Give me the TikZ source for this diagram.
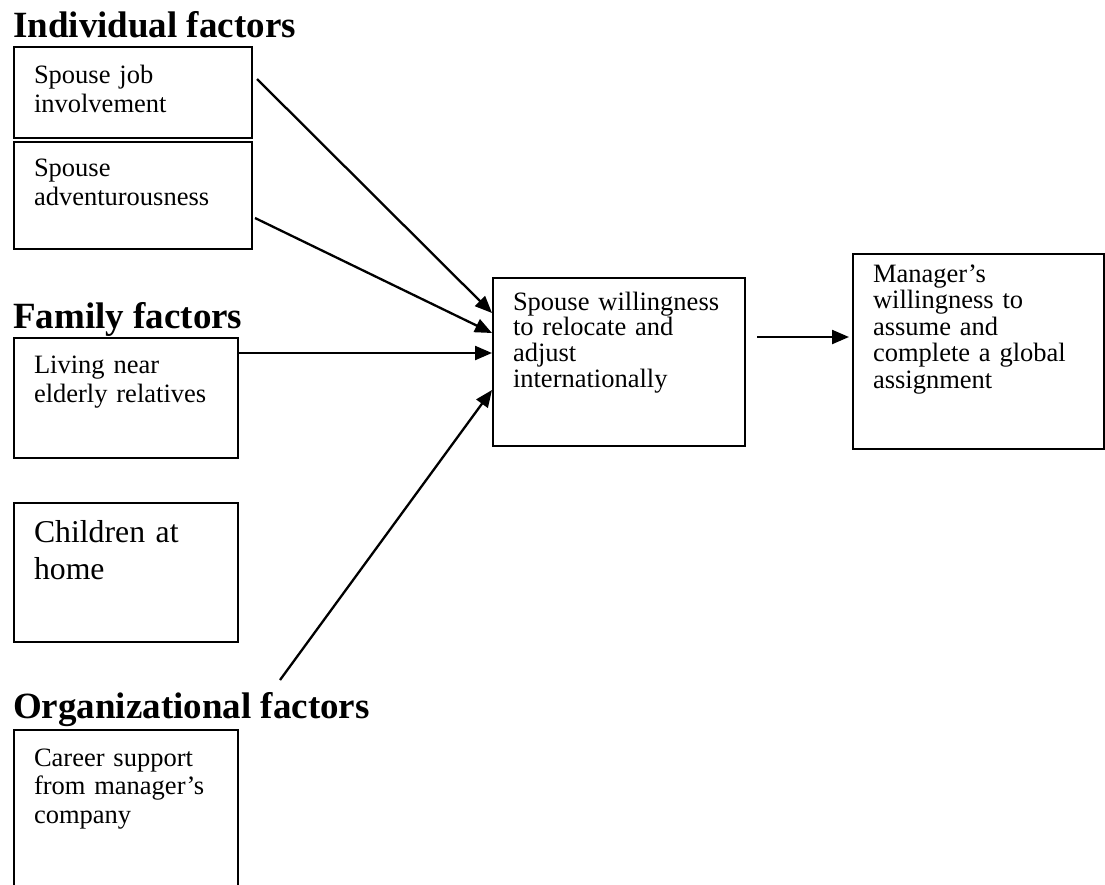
\documentclass[tikz,border=0pt]{standalone}
\usepackage{fontspec}
\setmainfont{Liberation Serif}
\usetikzlibrary{calc,arrows.meta}
\tikzset{
  factorbox/.style={draw, line width=2pt, anchor=north west, inner xsep=20pt, inner ysep=0pt, align=left, font=\fontsize{26.5}{29}\selectfont},
  heading/.style={anchor=base west, inner sep=0pt, font=\bfseries\fontsize{37}{40}\selectfont},
  link/.style={line width=2.3pt, -{Triangle[length=17pt,width=14pt]}}
}

\begin{document}
\begin{tikzpicture}[x=1pt,y=-1pt]
		%%%%% START %%%%%
		\useasboundingbox (0,0) rectangle (1105,884);
		\clip (0,0) rectangle (1105,884);
		
		\node[heading] (indiv) at (13,37) {Individual factors};
		\node[factorbox, text width=198pt, text height=36pt, text depth=55pt] (job) at (13,46) {Spouse job\\involvement};
		\node[factorbox, text width=198pt, text height=34pt, text depth=73pt] (adv) at (13,141) {Spouse\\adventurousness};
		
		\node[heading] (family) at (13,328) {Family factors};
		\node[factorbox, text width=184pt, text height=35pt, text depth=85pt] (eld) at (13,337) {Living near\\elderly relatives};
		\node[factorbox, text width=184pt, text height=39pt, text depth=100pt, font=\fontsize{31.75}{37}\selectfont] (kids) at (13,502) {Children at\\home};
		
		\node[heading] (org) at (13,718) {Organizational factors};
		\node[factorbox, text width=184pt, text height=36pt, text depth=164pt, font=\fontsize{26.5}{28.5}\selectfont] (car) at (13,729) {Career support\\from manager’s\\company};
		
		\node[factorbox, text width=212pt, text height=32pt, text depth=136pt, font=\fontsize{26.5}{25.8}\selectfont] (spw) at (492,277) {Spouse willingness\\to relocate and\\adjust\\internationally};
		\node[factorbox, text width=211pt, text height=28pt, text depth=167pt, font=\fontsize{26.5}{26.5}\selectfont] (mgr) at (852,253) {Manager’s\\willingness to\\assume and\\complete a global\\assignment};
		
		\coordinate (orgtail) at (280,680);
		
		\draw[link] ($(job.north east)+(4,33)$) -- ($(spw.north west)+(0,36)$);
		\draw[link] ($(adv.north east)+(2,77)$) -- ($(spw.north west)+(0,56)$);
		\draw[link] ($(eld.north east)+(0,16)$) -- ($(spw.north west)+(0,76)$);
		\draw[link] (orgtail) -- ($(spw.north west)+(0,113)$);
		\draw[link] ($(spw.north east)+(11,60)$) -- ($(mgr.north west)+(-3,84)$);
		
		%%%%% END %%%%%
\end{tikzpicture}
\end{document}
